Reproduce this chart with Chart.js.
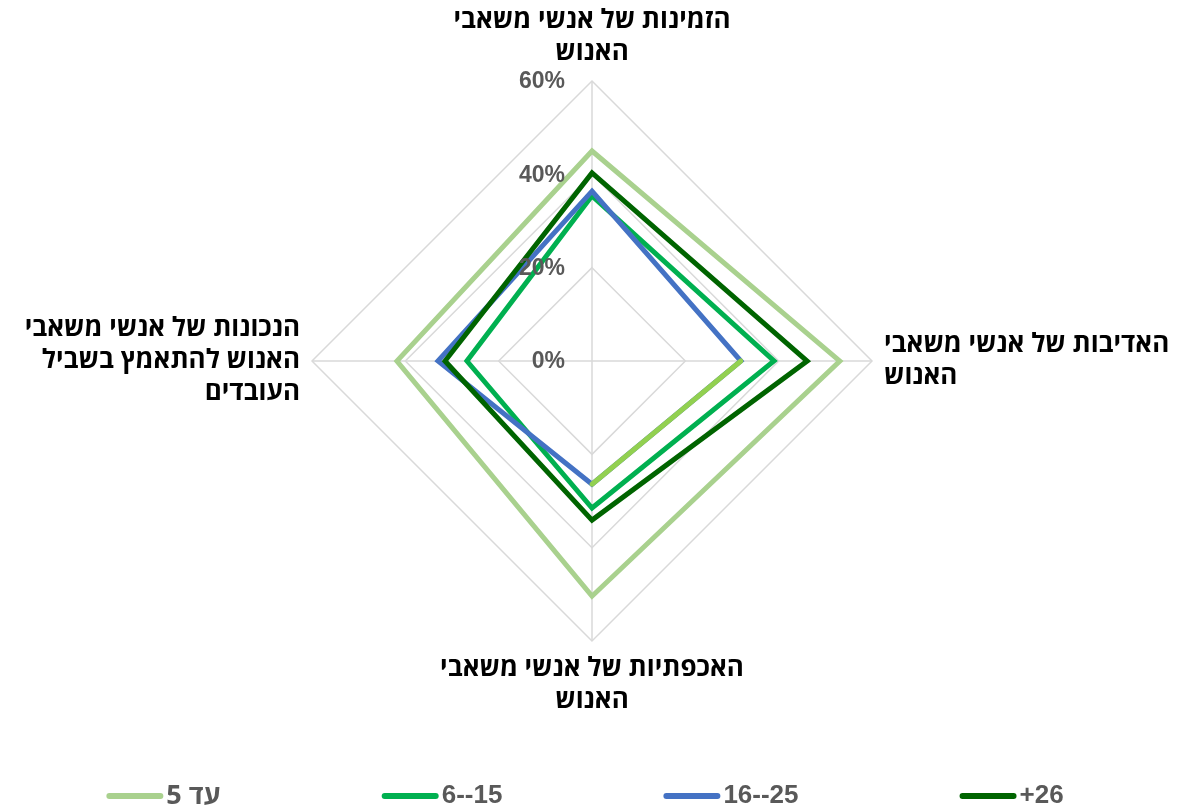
<!DOCTYPE html>
<html><head><meta charset="utf-8">
<script src="https://cdn.jsdelivr.net/npm/chart.js@4"></script>
<style>html,body{margin:0;padding:0;background:#fff;} #c{display:block;}</style>
</head><body>
<canvas id="c" width="1188" height="809"></canvas>
<script>
const categories = [
  ['הזמינות של אנשי משאבי', 'האנוש'],
  ['האדיבות של אנשי משאבי', 'האנוש'],
  ['האכפתיות של אנשי משאבי', 'האנוש'],
  ['הנכונות של אנשי משאבי', 'האנוש להתאמץ בשביל', 'העובדים']
];
const seriesNames = ['עד 5', '6--15', '16--25', '+26'];
const upTo5   = [45.0, 53.1, 50.4, 41.8];
const s6to15  = [35.4, 39.0, 31.5, 26.8];
const s16to25 = [36.4, 31.9, 26.4, 33.0];
const s26plus = [40.3, 46.1, 34.1, 31.5];
const tickValues = [0, 20, 40, 60];
const tickLabels = ['0%', '20%', '40%', '60%'];
// the 16--25 segment between the 2nd and 3rd category is drawn in lime in the original
const limeSegmentIdx = [1, 2];

const colors = ['#A9D18E', '#00B050', '#4472C4', '#006400'];
const limeColor = '#92D050';
const LATIN = '"Liberation Sans", Arial, sans-serif';
const HEB = '"Open Sans", "DejaVu Sans", sans-serif';

const tickPlugin = {
  id: 'tickLabels',
  afterDatasetsDraw(chart) {
    const s = chart.scales.r, ctx = chart.ctx;
    ctx.save();
    ctx.font = 'bold 23px ' + LATIN;
    ctx.fillStyle = '#595959';
    ctx.textAlign = 'right';
    ctx.textBaseline = 'middle';
    tickValues.forEach((v, i) => {
      const y = s.yCenter - s.getDistanceFromCenterForValue(v);
      ctx.fillText(tickLabels[i], s.xCenter - 27, y + 1);
    });
    ctx.restore();
  }
};

const legendPlugin = {
  id: 'customLegend',
  afterDraw(chart) {
    const ctx = chart.ctx;
    const lineW = 57, gap = 3, between = 161, y = 796;
    ctx.save();
    const fontFor = n => /[\u0590-\u05FF]/.test(n) ? 'bold 27px ' + HEB : 'bold 26px ' + LATIN;
    const widths = seriesNames.map(n => { ctx.font = fontFor(n); return lineW + gap + ctx.measureText(n).width; });
    const total = widths.reduce((a, b) => a + b, 0) + between * (widths.length - 1);
    let x = 585 - total / 2;
    seriesNames.forEach((n, i) => {
      ctx.strokeStyle = colors[i];
      ctx.lineWidth = 6;
      ctx.lineCap = 'round';
      ctx.beginPath();
      ctx.moveTo(x + 3, y);
      ctx.lineTo(x + lineW - 3, y);
      ctx.stroke();
      ctx.font = fontFor(n);
      ctx.fillStyle = '#595959';
      ctx.textAlign = 'left';
      ctx.textBaseline = 'middle';
      ctx.fillText(n, x + lineW + gap, y);
      x += widths[i] + between;
    });
    ctx.restore();
  }
};

const seriesData = [upTo5, s6to15, s16to25, s26plus];
const datasets = seriesData.map((d, i) => ({
  label: seriesNames[i],
  data: d,
  borderColor: colors[i],
  backgroundColor: 'transparent',
  borderWidth: 5,
  pointRadius: 0,
  pointHoverRadius: 0,
  fill: false,
  order: 5 - i
}));
datasets.push({
  label: seriesNames[2] + ' (segment)',
  data: s16to25.map((v, i) => limeSegmentIdx.includes(i) ? v : null),
  borderColor: limeColor,
  backgroundColor: 'transparent',
  borderWidth: 5,
  borderCapStyle: 'round',
  pointRadius: 0,
  pointHoverRadius: 0,
  fill: false,
  spanGaps: false,
  order: 2.5
});

new Chart(document.getElementById('c'), {
  type: 'radar',
  data: { labels: categories, datasets },
  options: {
    responsive: false,
    animation: false,
    layout: { padding: { top: 5, bottom: 92, left: 6, right: 0 } },
    plugins: { legend: { display: false }, tooltip: { enabled: false } },
    elements: { line: { tension: 0 } },
    scales: {
      r: {
        min: 0, max: 60,
        ticks: { display: false, stepSize: 20 },
        grid: { color: '#D9D9D9', lineWidth: 1.5 },
        angleLines: { color: '#D9D9D9', lineWidth: 1.5 },
        pointLabels: {
          color: '#000000',
          padding: 12,
          font: { family: HEB, size: 26, weight: 'bold', lineHeight: '32px' }
        }
      }
    }
  },
  plugins: [tickPlugin, legendPlugin]
});
</script>
</body></html>
